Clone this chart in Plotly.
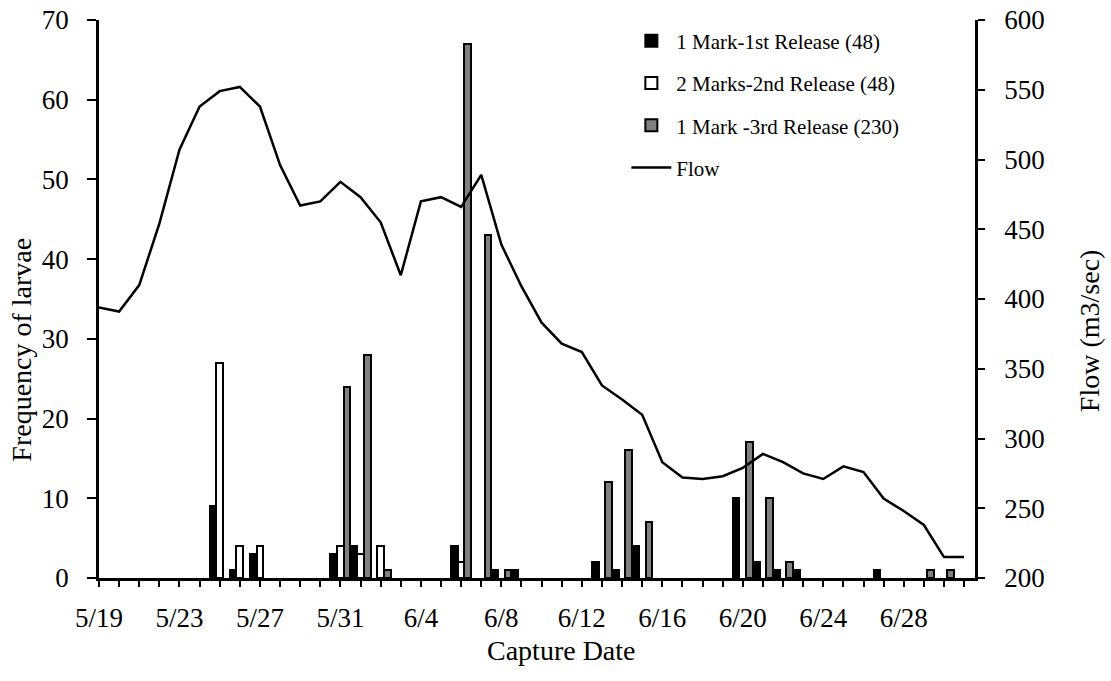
import pandas as pd
import plotly.graph_objects as go

YEAR = 2010

# Daily river flow (m3/sec), 5/19 .. 7/1
flow_dates = ["5/19", "5/20", "5/21", "5/22", "5/23", "5/24", "5/25", "5/26", "5/27", "5/28",
              "5/29", "5/30", "5/31", "6/1", "6/2", "6/3", "6/4", "6/5", "6/6", "6/7",
              "6/8", "6/9", "6/10", "6/11", "6/12", "6/13", "6/14", "6/15", "6/16", "6/17",
              "6/18", "6/19", "6/20", "6/21", "6/22", "6/23", "6/24", "6/25", "6/26", "6/27",
              "6/28", "6/29", "6/30", "7/1"]
flow_values = [394, 391, 410, 454, 507, 538, 549, 552, 538, 496,
               467, 470, 484, 473, 455, 417, 470, 473, 466, 489,
               439, 409, 383, 368, 362, 338, 328, 317, 283, 272,
               271, 273, 279, 289, 283, 275, 271, 280, 276, 257,
               248, 238, 215, 215]

# Recaptured larvae per day
rel1_dates = ["5/25", "5/26", "5/27", "5/31", "6/1", "6/6", "6/8", "6/9", "6/13", "6/14",
              "6/15", "6/20", "6/21", "6/22", "6/23", "6/27"]
rel1_counts = [9, 1, 3, 3, 4, 4, 1, 1, 2, 1, 4, 10, 2, 1, 1, 1]

rel2_dates = ["5/25", "5/26", "5/27", "5/31", "6/1", "6/2", "6/6"]
rel2_counts = [27, 4, 4, 4, 3, 4, 2]

rel3_dates = ["5/31", "6/1", "6/2", "6/6", "6/7", "6/8", "6/13", "6/14", "6/15", "6/20",
              "6/21", "6/22", "6/29", "6/30"]
rel3_counts = [24, 28, 1, 67, 43, 1, 12, 16, 7, 17, 10, 2, 1, 1]

series_names = ["1 Mark-1st Release (48)", "2 Marks-2nd Release (48)",
                "1 Mark -3rd Release (230)", "Flow"]
series_colors = ["#000000", "#ffffff", "#808080"]

x_labels = ["5/19", "5/23", "5/27", "5/31", "6/4", "6/8", "6/12", "6/16", "6/20", "6/24", "6/28"]
left_ticks = [0, 10, 20, 30, 40, 50, 60, 70]
right_ticks = [200, 250, 300, 350, 400, 450, 500, 550, 600]


def to_date(md):
    m, d = md.split("/")
    return pd.Timestamp(year=YEAR, month=int(m), day=int(d))


all_days = [to_date(s) for s in flow_dates]


def full_series(dates, counts):
    lookup = {to_date(d): c for d, c in zip(dates, counts)}
    return [lookup.get(day) for day in all_days]


FONT = "Liberation Serif"
TICK_SIZE = 27
TITLE_SIZE = 28
fig = go.Figure()

for name, color, (dts, cnts) in zip(series_names[:3], series_colors,
                                    [(rel1_dates, rel1_counts), (rel2_dates, rel2_counts),
                                     (rel3_dates, rel3_counts)]):
    fig.add_trace(go.Bar(
        x=all_days, y=full_series(dts, cnts), name=name, legendgroup=name,
        marker=dict(color=color, line=dict(color="black", width=2)),
        yaxis="y",
    ))

fig.add_trace(go.Scatter(
    x=all_days, y=flow_values, name=series_names[3], legendgroup="flow",
    mode="lines", line=dict(color="black", width=2.5), yaxis="y2",
))

x_start = all_days[0]
x_end = all_days[-1] + pd.Timedelta(hours=13)

fig.update_layout(
    width=1111, height=681,
    margin=dict(l=99, r=136, t=20, b=103, autoexpand=False),
    paper_bgcolor="white", plot_bgcolor="white",
    barmode="group", bargap=0, bargroupgap=0,
    font=dict(family=FONT, size=TICK_SIZE, color="black"),
    showlegend=True,
    legend=dict(x=0.602, y=0.999, xanchor="left", yanchor="top",
                font=dict(family=FONT, size=21, color="black"),
                bgcolor="rgba(0,0,0,0)", itemwidth=40, tracegroupgap=12,
                traceorder="grouped"),
    xaxis=dict(
        type="date", range=[x_start, x_end], automargin=False,
        tickmode="array", tickvals=[to_date(s) for s in x_labels], ticktext=x_labels,
        ticks="outside", ticklen=6, tickwidth=2, tickcolor="black",
        minor=dict(dtick=86400000, tick0=x_start, ticks="outside", ticklen=6,
                   tickwidth=2, tickcolor="black", showgrid=False),
        showline=True, linecolor="black", linewidth=2.5,
        showgrid=False, zeroline=False, ticklabeloverflow="allow",
        tickfont=dict(family=FONT, size=TICK_SIZE), ticklabelstandoff=8,
    ),
    yaxis=dict(
        range=[0, 70], tickvals=left_ticks, automargin=False,
        ticks="outside", ticklen=9, tickwidth=2, tickcolor="black",
        showline=True, linecolor="black", linewidth=2.5,
        showgrid=False, zeroline=False, ticklabeloverflow="allow",
        tickfont=dict(family=FONT, size=TICK_SIZE), ticklabelstandoff=13,
    ),
    yaxis2=dict(
        range=[200, 600], tickvals=right_ticks, overlaying="y", side="right",
        automargin=False,
        ticks="outside", ticklen=7, tickwidth=2, tickcolor="black",
        showline=True, linecolor="black", linewidth=2.5,
        showgrid=False, zeroline=False, ticklabeloverflow="allow",
        tickfont=dict(family=FONT, size=TICK_SIZE), ticklabelstandoff=14,
    ),
    annotations=[
        dict(text="Frequency of larvae", xref="paper", yref="paper",
             x=-0.088, y=0.409, textangle=-90, showarrow=False, borderpad=0,
             xanchor="center", yanchor="middle", font=dict(family=FONT, size=TITLE_SIZE)),
        dict(text="Flow (m3/sec)", xref="paper", yref="paper",
             x=1.13, y=0.444, textangle=-90, showarrow=False, borderpad=0,
             xanchor="center", yanchor="middle", font=dict(family=FONT, size=TITLE_SIZE)),
        dict(text="Capture Date", xref="paper", yref="paper",
             x=0.528, y=-0.13, showarrow=False, borderpad=0,
             xanchor="center", yanchor="middle", font=dict(family=FONT, size=TITLE_SIZE)),
    ],
)

fig.write_html("out.html",
               config={"displayModeBar": False},
               post_script="document.body.style.margin='0';document.body.style.overflow='hidden';")
